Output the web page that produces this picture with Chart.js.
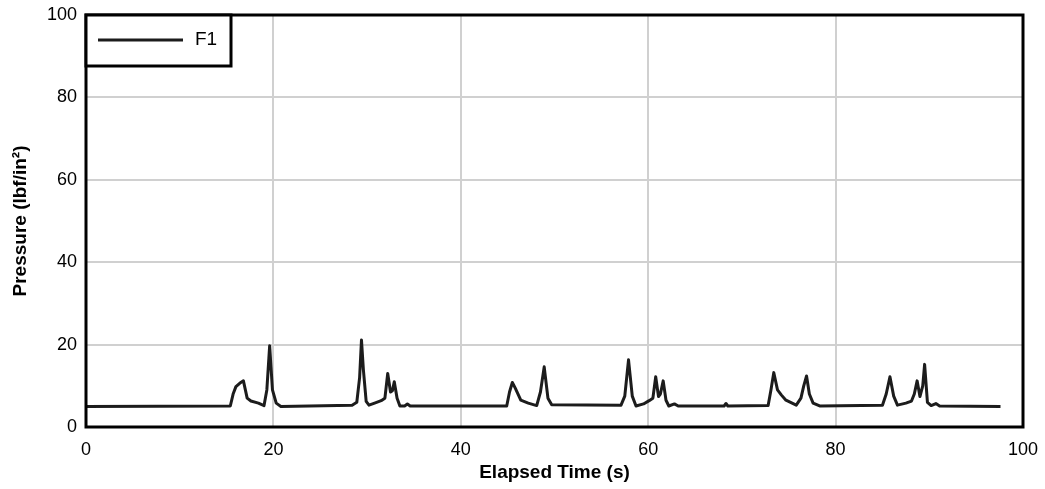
<!DOCTYPE html>
<html>
<head>
<meta charset="utf-8">
<script src="https://cdn.jsdelivr.net/npm/chart.js@4/dist/chart.umd.min.js"></script>
<style>
  html, body { margin: 0; padding: 0; background: #fff; }
  #wrap { position: relative; width: 1045px; height: 489px; }
</style>
</head>
<body>
<div id="wrap"><canvas id="pressure-chart"></canvas></div>
<script>
// values
const seriesLabel = "F1";
const elapsedTime = [
  0, 15.4, 15.7, 16.0, 16.4, 16.8, 17.2, 17.6, 18.4, 19.0, 19.3, 19.6, 19.9, 20.3, 20.8,
  28.4, 28.9, 29.2, 29.4, 29.6, 29.9, 30.2, 30.8, 31.5, 31.9, 32.2, 32.5, 32.7, 32.9, 33.2, 33.5,
  34.0, 34.3, 34.6, 44.9, 45.2, 45.5, 45.8, 46.4, 47.2, 48.1, 48.5, 48.9, 49.3, 49.7,
  57.1, 57.5, 57.9, 58.3, 58.7, 59.5, 60.1, 60.5, 60.8, 61.1, 61.3, 61.6, 61.9, 62.2, 62.8, 63.2,
  68.1, 68.3, 68.5, 72.8, 73.1, 73.4, 73.8, 74.2, 74.7, 75.8, 76.3, 76.6, 76.9, 77.2, 77.6, 78.3,
  85.0, 85.4, 85.8, 86.2, 86.6, 87.5, 88.1, 88.4, 88.7, 89.0, 89.3, 89.5, 89.8, 90.2, 90.7, 91.1, 97.6
];
const pressure = [
  5.0, 5.1, 8.0, 9.8, 10.6, 11.2, 7.0, 6.3, 5.8, 5.2, 9.0, 19.7, 9.0, 5.8, 5.0,
  5.3, 6.0, 12.0, 21.1, 14.0, 6.2, 5.3, 5.8, 6.4, 7.0, 13.0, 8.5, 8.8, 11.0, 7.0, 5.1,
  5.1, 5.6, 5.1, 5.1, 8.5, 10.8, 9.5, 6.5, 5.8, 5.2, 8.5, 14.6, 7.0, 5.4,
  5.3, 7.5, 16.3, 7.5, 5.1, 5.6, 6.4, 7.0, 12.2, 7.4, 8.0, 11.2, 6.5, 5.1, 5.6, 5.1,
  5.1, 5.7, 5.1, 5.2, 9.0, 13.2, 9.0, 7.8, 6.5, 5.3, 7.0, 10.0, 12.4, 8.0, 5.8, 5.1,
  5.3, 8.0, 12.2, 7.5, 5.3, 5.8, 6.3, 8.0, 11.2, 7.4, 10.0, 15.2, 6.0, 5.2, 5.7, 5.1, 5.0
];
const xTicks = [0, 20, 40, 60, 80, 100];
const yTicks = [0, 20, 40, 60, 80, 100];

const fontFamily = "Arial, 'Liberation Sans', sans-serif";

// black frame round the plot + legend box in the top-left corner
const frameAndLegend = {
  id: "frameAndLegend",
  afterDraw(chart) {
    const { ctx, chartArea } = chart;
    const { left, top, right, bottom } = chartArea;
    ctx.save();
    ctx.strokeStyle = "#000";
    ctx.lineWidth = 3;
    ctx.strokeRect(left, top, right - left, bottom - top);

    // legend
    const boxW = 145, boxH = 51;
    ctx.fillStyle = "#fff";
    ctx.fillRect(left, top, boxW, boxH);
    ctx.strokeRect(left, top, boxW, boxH);
    const ds = chart.data.datasets[0];
    ctx.strokeStyle = ds.borderColor;
    ctx.lineWidth = 3;
    ctx.beginPath();
    ctx.moveTo(left + 12, top + 25);
    ctx.lineTo(left + 97, top + 25);
    ctx.stroke();
    ctx.fillStyle = "#000";
    ctx.font = "19px " + fontFamily;
    ctx.textBaseline = "middle";
    ctx.fillText(ds.label, left + 109, top + 25);
    ctx.restore();
  }
};

new Chart(document.getElementById("pressure-chart"), {
  type: "line",
  data: {
    datasets: [{
      label: seriesLabel,
      data: elapsedTime.map((t, i) => ({ x: t, y: pressure[i] })),
      borderColor: "#1c1c1c",
      borderWidth: 3,
      pointRadius: 0,
      tension: 0,
      borderJoinStyle: "round",
      fill: false
    }]
  },
  options: {
    responsive: true,
    maintainAspectRatio: false,
    animation: false,
    layout: { padding: { left: 0, top: 15, right: 22, bottom: 0 } },
    plugins: { legend: { display: false }, tooltip: { enabled: false } },
    scales: {
      x: {
        type: "linear",
        min: 0,
        max: 100,
        afterBuildTicks: (s) => { s.ticks = xTicks.map((v) => ({ value: v })); },
        afterFit: (s) => { s.height = 62; s.paddingLeft = 0; s.paddingRight = 0; },
        grid: { color: "#d0d0d0", lineWidth: 2, drawTicks: false },
        border: { display: false },
        ticks: { color: "#000", padding: 12, font: { family: fontFamily, size: 18 }, maxRotation: 0 },
        title: {
          display: true,
          text: "Elapsed Time (s)",
          color: "#000",
          padding: { top: 0, bottom: 5 },
          font: { family: fontFamily, size: 19, weight: "bold" }
        }
      },
      y: {
        min: 0,
        max: 100,
        afterBuildTicks: (s) => { s.ticks = yTicks.map((v) => ({ value: v })); },
        afterFit: (s) => { s.width = 86; s.paddingTop = 0; s.paddingBottom = 0; },
        grid: { color: "#d0d0d0", lineWidth: 2, drawTicks: false },
        border: { display: false },
        ticks: { color: "#000", padding: 9, font: { family: fontFamily, size: 18 } },
        title: {
          display: true,
          text: "Pressure (lbf/in²)",
          color: "#000",
          padding: { top: 9, bottom: 0 },
          font: { family: fontFamily, size: 19, weight: "bold" }
        }
      }
    }
  },
  plugins: [frameAndLegend]
});
</script>
</body>
</html>
